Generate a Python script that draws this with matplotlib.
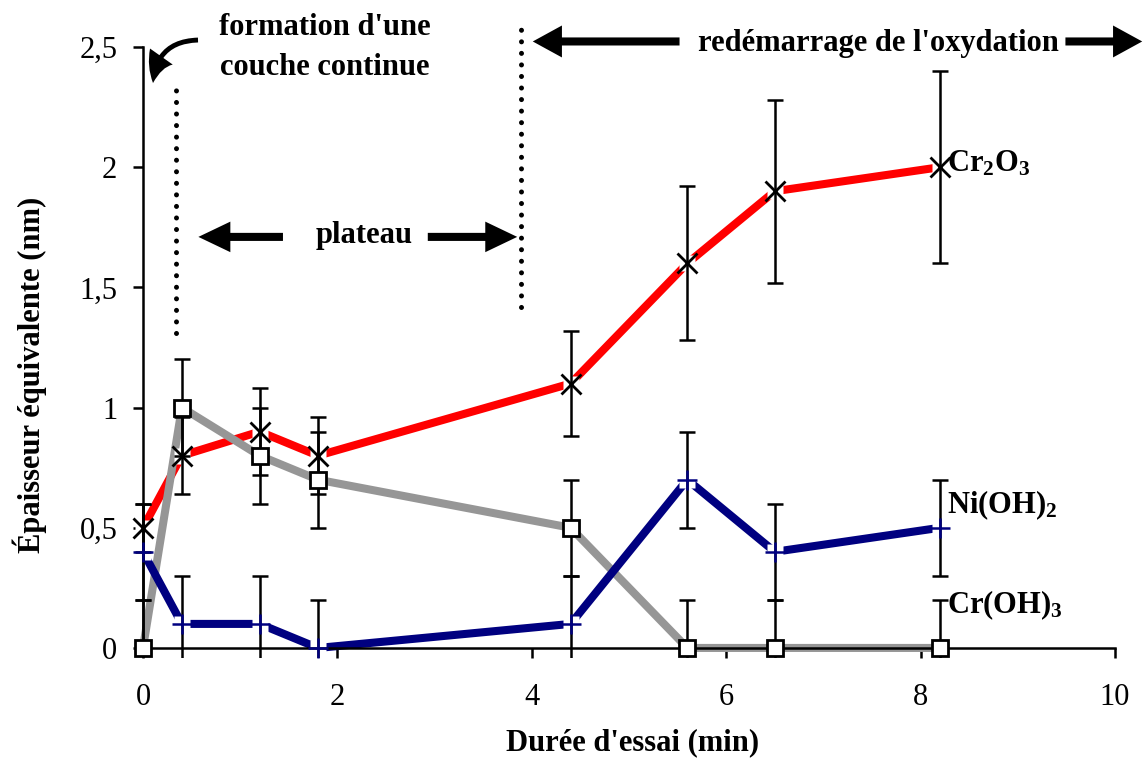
import matplotlib.pyplot as plt

plt.rcParams["font.family"] = "Liberation Serif"
plt.rcParams["mathtext.fontset"] = "custom"
plt.rcParams["mathtext.rm"] = "Liberation Serif:bold"
plt.rcParams["mathtext.it"] = "Liberation Serif:bold"
plt.rcParams["mathtext.bf"] = "Liberation Serif:bold"

# Durée d'essai (min)
duree = [0, 0.4, 1.2, 1.8, 4.4, 5.6, 6.5, 8.2]

cr2o3 = [0.5, 0.8, 0.9, 0.8, 1.1, 1.6, 1.9, 2.0]
cr2o3_err = [0.1, 0.16, 0.18, 0.16, 0.22, 0.32, 0.38, 0.4]
croh3 = [0, 1.0, 0.8, 0.7, 0.5, 0, 0, 0]
croh3_err = [0.2, 0.2, 0.2, 0.2, 0.2, 0.2, 0.2, 0.2]
nioh2 = [0.4, 0.1, 0.1, 0.0, 0.1, 0.7, 0.4, 0.5]
nioh2_err = [0.2, 0.2, 0.2, 0.2, 0.2, 0.2, 0.2, 0.2]

x_ticks = [0, 2, 4, 6, 8, 10]
y_ticks = [0, 0.5, 1, 1.5, 2, 2.5]
y_tick_labels = ["0", "0,5", "1", "1,5", "2", "2,5"]

RED = "#ff0000"
GRAY = "#969696"
NAVY = "#000080"

fig = plt.figure(figsize=(11.43, 7.58), dpi=100)
ax = fig.add_axes([0.1166, 0.1325, 0.8589, 0.8055])
ax.set_xlim(-0.1, 10.0)
ax.set_ylim(-0.04, 2.5)

series = [
    (cr2o3, cr2o3_err, RED, dict(marker="x", ms=14, mec="black", mew=2)),
    (croh3, croh3_err, GRAY, dict(marker="s", ms=11, mfc="white", mec="black", mew=2)),
    (nioh2, nioh2_err, NAVY, dict(marker="+", ms=14, mec=NAVY, mew=1.8)),
]
for i, (vals, err, col, mk) in enumerate(series):
    ax.plot(duree, vals, color=col, lw=5.8, zorder=2 + i * 0.1, solid_capstyle="butt")
# white knock-out behind the open markers (Excel style gap in the line)
for vals in (cr2o3, nioh2):
    ax.plot(duree, vals, ls="none", marker="s", ms=11, mfc="white", mec="none",
            zorder=2.5, clip_on=False)
for vals, err, col, mk in series:
    ax.errorbar(duree, vals, yerr=err, fmt="none", ecolor="black", elinewidth=1.8,
                capsize=5.5, capthick=1.8, zorder=3)
for vals, err, col, mk in series:
    ax.plot(duree, vals, ls="none", zorder=4, clip_on=False, **mk)

# axes styling
for s in ["top", "right"]:
    ax.spines[s].set_visible(False)
ax.spines["left"].set_position(("data", 0))
ax.spines["bottom"].set_position(("data", 0))
ax.spines["left"].set_bounds(0, 2.5)
ax.spines["bottom"].set_bounds(0, 10)
for s in ["left", "bottom"]:
    ax.spines[s].set_linewidth(1.8)
ax.set_xticks(x_ticks)
ax.set_yticks(y_ticks)
ax.set_yticklabels(y_tick_labels)
ax.tick_params(axis="both", direction="out", length=7.5, width=1.8, labelsize=22)
ax.tick_params(axis="y", pad=11)
ax.tick_params(axis="x", pad=18)

fig.text(0.026, 0.505, "Épaisseur équivalente (nm)", rotation=90, ha="center", va="center",
         fontsize=22, fontweight="bold")
fig.text(0.553, 0.0106, "Durée d'essai (min)", ha="center", va="baseline",
         fontsize=22, fontweight="bold")

# dotted separators
dot = dict(color="black", lw=3.6, ls=(0, (0.01, 2.3)), dash_capstyle="round", clip_on=False)
ax.plot([0.34, 0.34], [1.31, 2.33], **dot)
ax.plot([3.89, 3.89], [1.42, 2.59], **dot)

# annotations
txt = dict(fontsize=22, fontweight="bold", ha="center", va="baseline", clip_on=False)
ax.text(1.87, 2.55, "formation d'une", **txt)
ax.text(1.87, 2.383, "couche continue", **txt)
ax.text(2.27, 1.685, "plateau", **txt)
ax.text(7.57, 2.483, "redémarrage de l'oxydation", **txt)

big = dict(arrowstyle="simple,head_length=21,head_width=23,tail_width=5.8",
           mutation_scale=1, fc="black", ec="none", lw=0, shrinkA=0, shrinkB=0)
small = dict(arrowstyle="simple,head_length=23,head_width=22,tail_width=5.8",
             mutation_scale=1, fc="black", ec="none", lw=0, shrinkA=0, shrinkB=0)
ax.annotate("", xy=(0.57, 1.71), xytext=(1.44, 1.71), arrowprops=small, annotation_clip=False)
ax.annotate("", xy=(3.85, 1.71), xytext=(2.93, 1.71), arrowprops=small, annotation_clip=False)
ax.annotate("", xy=(4.01, 2.523), xytext=(5.52, 2.523), arrowprops=big, annotation_clip=False)
ax.annotate("", xy=(10.28, 2.523), xytext=(9.49, 2.523), arrowprops=big, annotation_clip=False)
curved = dict(arrowstyle="simple,head_length=20,head_width=20,tail_width=3.5",
              mutation_scale=1, fc="black", ec="none", lw=0, shrinkA=0, shrinkB=0,
              connectionstyle="arc3,rad=0.45")
ax.annotate("", xy=(0.103, 2.35), xytext=(0.566, 2.529), arrowprops=curved, annotation_clip=False)

# series labels
lab = dict(fontsize=22, fontweight="bold", ha="left", va="baseline", clip_on=False)
ax.text(8.27, 1.98, r"Cr$_2$O$_3$", **lab)
ax.text(8.27, 0.56, r"Ni(OH)$_2$", **lab)
ax.text(8.27, 0.146, r"Cr(OH)$_3$", **lab)

fig.savefig("out.png", dpi=100)
